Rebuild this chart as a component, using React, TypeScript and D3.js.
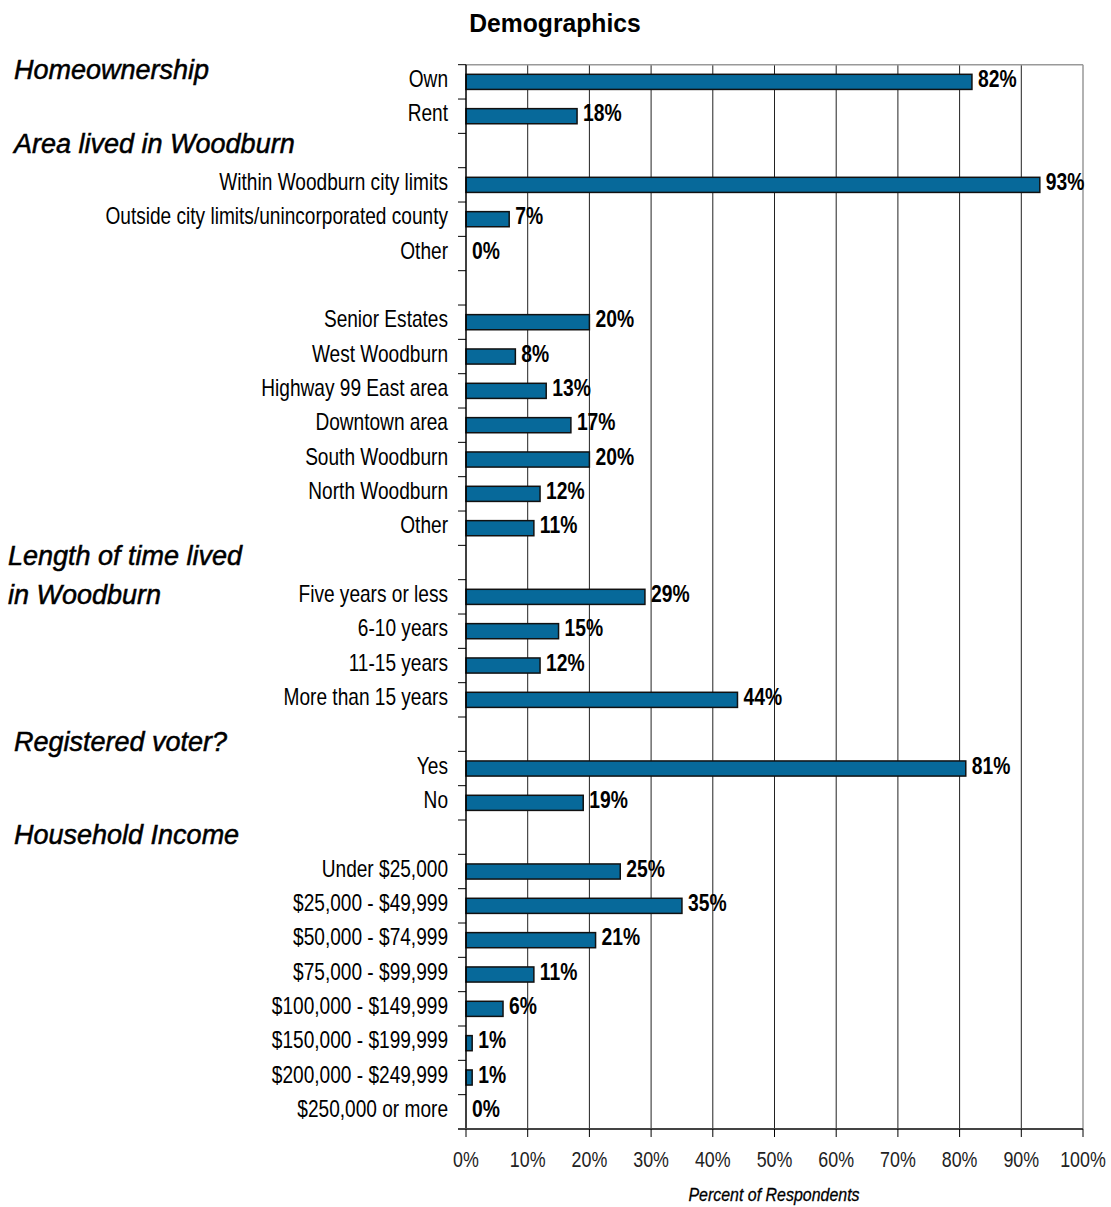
import React from "react";
import * as d3 from "d3";

const categories: string[] = [
  "Own", "Rent", "",
  "Within Woodburn city limits", "Outside city limits/unincorporated county", "Other", " ",
  "Senior Estates", "West Woodburn", "Highway 99 East area", "Downtown area", "South Woodburn", "North Woodburn", "Other ", "  ",
  "Five years or less", "6-10 years", "11-15 years", "More than 15 years", "   ",
  "Yes", "No", "    ",
  "Under $25,000", "$25,000 - $49,999", "$50,000 - $74,999", "$75,000 - $99,999", "$100,000 - $149,999", "$150,000 - $199,999", "$200,000 - $249,999", "$250,000 or more",
];
const values: (number | null)[] = [
  82, 18, null,
  93, 7, 0, null,
  20, 8, 13, 17, 20, 12, 11, null,
  29, 15, 12, 44, null,
  81, 19, null,
  25, 35, 21, 11, 6, 1, 1, 0,
];
const sectionTitles: { text: string; x: number; y: number }[] = [
  { text: "Homeownership", x: 14, y: 79 },
  { text: "Area lived in Woodburn", x: 14, y: 153 },
  { text: "Length of time lived", x: 8, y: 565 },
  { text: "in Woodburn", x: 8, y: 604 },
  { text: "Registered voter?", x: 14, y: 751 },
  { text: "Household Income", x: 14, y: 844 },
];
const xTicks: number[] = [0, 10, 20, 30, 40, 50, 60, 70, 80, 90, 100];

const W = 1111, H = 1207;
const left = 466, right = 1083, top = 64.7, bottom = 1129;
const font = "'Liberation Sans', Arial, sans-serif";
const barColor = "#07699A";
const SX = 0.83;

function NText(props: { x: number; y: number; anchor?: "start" | "middle" | "end"; size: number; bold?: boolean; italic?: boolean; fill?: string; sx?: number; heavy?: number; children: React.ReactNode }) {
  const sx = props.sx ?? SX;
  return (
    <text transform={`translate(${props.x},${props.y}) scale(${sx},1)`} textAnchor={props.anchor ?? "start"}
      fontFamily={font} fontSize={props.size} fontWeight={props.bold ? "bold" : "normal"}
      fontStyle={props.italic ? "italic" : "normal"} fill={props.fill ?? "#000"}
      stroke={props.heavy ? (props.fill ?? "#000") : "none"} strokeWidth={props.heavy ?? 0}>{props.children}</text>
  );
}

export default function App() {
  const x = d3.scaleLinear().domain([0, 100]).range([left, right]);
  const y = d3.scaleBand<string>().domain(categories).range([top, bottom]).paddingInner(0.56).paddingOuter(0.28);
  const boundaries = d3.range(categories.length + 1).map(i => top + i * (bottom - top) / categories.length);
  const rowCenter = (i: number) => top + (i + 0.5) * (bottom - top) / categories.length;
  return (
    <svg width={W} height={H} style={{ position: "absolute", left: 0, top: 0, background: "#fff" }}>
      <rect x={0} y={0} width={W} height={H} fill="#fff" />
      <NText x={555} y={32} anchor="middle" size={26} bold sx={0.95}>Demographics</NText>
      {/* gridlines */}
      {xTicks.filter(t => t > 0 && t < 100).map(t => (
        <line key={"g" + t} x1={x(t)} x2={x(t)} y1={top} y2={bottom} stroke="#222" strokeWidth={1} />
      ))}
      <line x1={left} x2={right} y1={top} y2={top} stroke="#999" strokeWidth={1.5} />
      <line x1={right} x2={right} y1={top} y2={bottom} stroke="#999" strokeWidth={1.5} />
      {/* bars */}
      {categories.map((c, i) => values[i] == null || values[i] === 0 ? null : (
        <rect key={"b" + i} x={x(0)} y={y(c)!} width={x(values[i]!) - x(0)} height={y.bandwidth()}
          fill={barColor} stroke="#111" strokeWidth={1.5} />
      ))}
      {/* value labels */}
      {categories.map((c, i) => values[i] == null ? null : (
        <NText key={"v" + i} x={x(values[i]!) + 6} y={rowCenter(i) + 5} size={23} bold sx={0.84}>{values[i]}%</NText>
      ))}
      {/* category labels */}
      {categories.map((c, i) => c.trim() === "" ? null : (
        <NText key={"c" + i} x={448} y={rowCenter(i) + 5} anchor="end" size={23}>{c.trim()}</NText>
      ))}
      {/* axes */}
      <line x1={left} x2={left} y1={top} y2={bottom} stroke="#000" strokeWidth={1.5} />
      {boundaries.map((b, i) => (
        <line key={"t" + i} x1={458} x2={left} y1={b} y2={b} stroke="#000" strokeWidth={1} />
      ))}
      <line x1={458} x2={right} y1={bottom} y2={bottom} stroke="#444" strokeWidth={2} />
      {xTicks.map(t => (
        <g key={"x" + t}>
          <line x1={x(t)} x2={x(t)} y1={bottom} y2={bottom + 8} stroke="#000" strokeWidth={1} />
          <NText x={x(t)} y={1167} anchor="middle" size={21.5} fill="#222">{t}%</NText>
        </g>
      ))}
      <NText x={774} y={1201} anchor="middle" size={19} italic sx={0.84} heavy={0.3}>Percent of Respondents</NText>
      {/* section titles */}
      {sectionTitles.map(s => (
        <NText key={s.text} x={s.x} y={s.y} size={27} italic sx={1} heavy={0.5}>{s.text}</NText>
      ))}
    </svg>
  );
}
